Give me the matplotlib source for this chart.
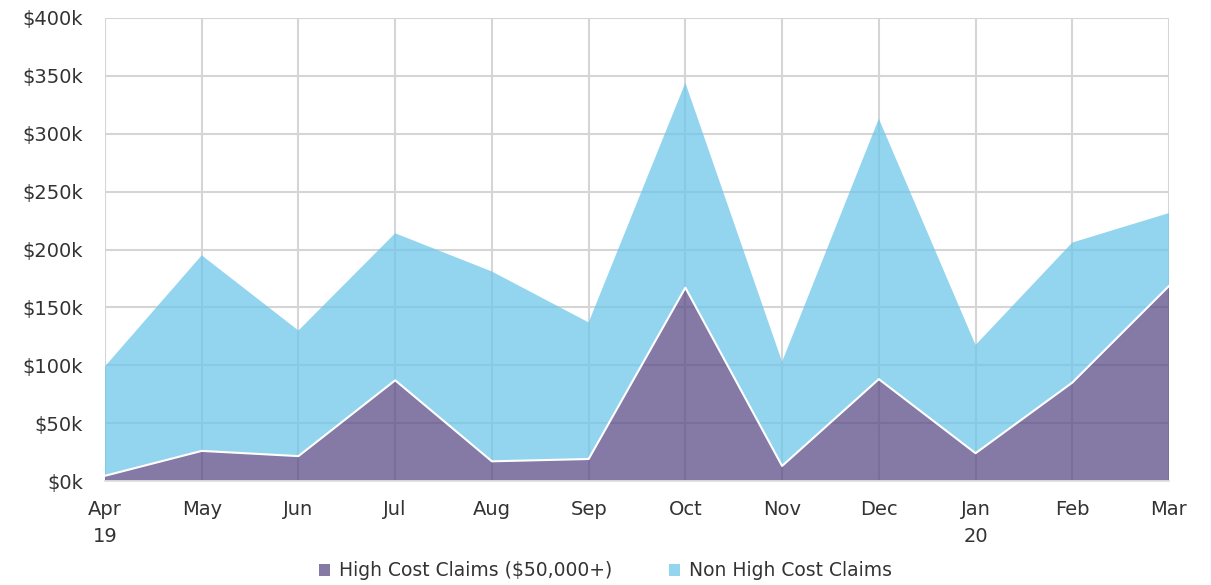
import numpy as np
import matplotlib.pyplot as plt
from matplotlib.patches import Patch

# Données (en milliers de $)
months = ['Apr\n19', 'May', 'Jun', 'Jul', 'Aug', 'Sep', 'Oct', 'Nov', 'Dec', 'Jan\n20', 'Feb', 'Mar']
high_cost = [4.5, 26, 21.5, 87, 17, 19, 167, 13, 88, 24, 85, 168.5]
total = [99, 195, 130, 214, 181, 137, 344, 103, 313, 117.5, 206, 231.5]
non_high_cost = [t - h for t, h in zip(total, high_cost)]

purple = '#5c4c87'
blue = '#6fc7ea'
fill_alpha = 0.75
grid_col = '#d5d5d5'
text_col = '#333333'

fig = plt.figure(figsize=(12.11, 5.85), dpi=100)
ax = fig.add_axes([105 / 1211, 1 - 481 / 585, (1169 - 105) / 1211, (481 - 18) / 585])

x = np.arange(len(months))
ax.stackplot(x, high_cost, non_high_cost, colors=[purple, blue], alpha=fill_alpha, linewidth=0, zorder=2)
ax.plot(x, high_cost, color='white', lw=1.5, zorder=3)

ax.set_xlim(0, len(months) - 1)
ax.set_ylim(0, 400)
ax.set_yticks(np.arange(0, 401, 50))
ax.set_yticklabels([f'${v}k' for v in range(0, 401, 50)])
ax.set_xticks(x)
ax.set_xticklabels(months, linespacing=1.5)

ax.grid(True, color=grid_col, lw=1.5, zorder=1)
ax.set_axisbelow(True)
for s in ['top', 'right', 'left']:
    ax.spines[s].set_visible(False)
ax.spines['bottom'].set_color('#e0e0e0')
ax.spines['bottom'].set_linewidth(1.3)
ax.tick_params(length=0, labelsize=14, colors=text_col)
ax.tick_params(axis='x', pad=14)
ax.tick_params(axis='y', pad=16)

handles = [Patch(facecolor=purple, alpha=fill_alpha, edgecolor='none', label='High Cost Claims ($50,000+)'),
           Patch(facecolor=blue, alpha=fill_alpha, edgecolor='none', label='Non High Cost Claims')]
fig.legend(handles=handles, loc='center', bbox_to_anchor=(0.5, 1 - 571 / 585), ncol=2,
           frameon=False, fontsize=13.5, handlelength=0.6, handleheight=0.6,
           handletextpad=0.5, columnspacing=3.0, labelcolor=text_col)

fig.savefig('out.png', dpi=100)
